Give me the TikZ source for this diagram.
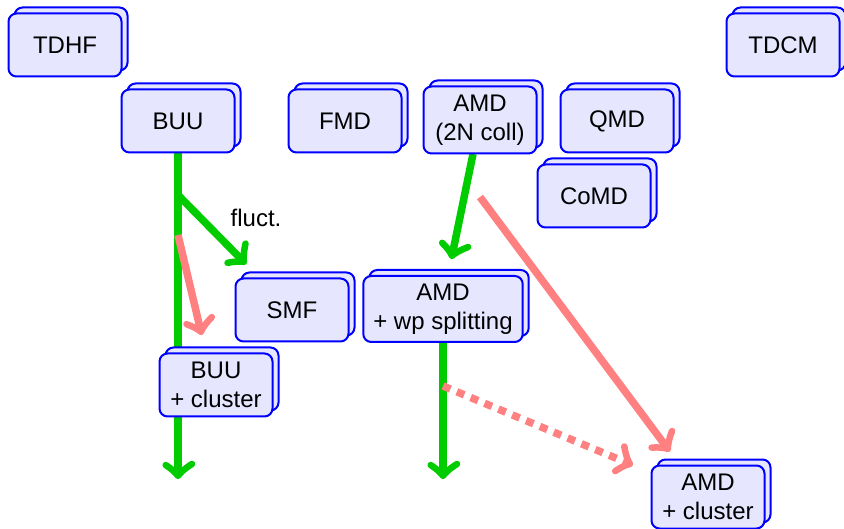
\documentclass[tikz,border=0pt]{standalone}
\usepackage{fontspec}
\setmainfont{Liberation Sans}
\usetikzlibrary{shadows,decorations.markings}
\pgfdeclarelayer{bg}
\pgfsetlayers{bg,main}
\definecolor{boxfill}{RGB}{230,230,255}
\definecolor{boxline}{RGB}{0,0,255}
\definecolor{grn}{RGB}{0,204,0}
\definecolor{pnk}{RGB}{255,128,128}
\begin{document}
\begin{tikzpicture}[x=1pt,y=-1pt,
  model/.style={draw=boxline, fill=boxfill, line width=2pt, rounded corners=8pt,
    minimum width=113pt, minimum height=63pt, inner xsep=10pt, inner ysep=5pt,
    align=center, font=\fontsize{24}{29}\selectfont,
    general shadow={shadow xshift=6pt, shadow yshift=6pt, fill=boxfill, draw=boxline, line width=2pt}},
  barbtip/.style={postaction={decorate, decoration={markings, mark=at position 1 with {
    \draw[solid, line width=6.5pt, line cap=round, line join=round]
      (-12pt,14pt) .. controls (-7pt,6pt) and (-2pt,1pt) .. (0pt,0pt)
      .. controls (-2pt,-1pt) and (-7pt,-6pt) .. (-12pt,-14pt);}}}},
  garrow/.style={draw=grn, line width=7.5pt, shorten >=2pt, barbtip},
  parrow/.style={draw=pnk, line width=7.5pt, shorten >=2pt, barbtip},
  lbl/.style={font=\fontsize{24}{29}\selectfont, inner sep=0pt}]
\useasboundingbox (0,0) rectangle (844,529);
\node[model] (tdhf) at (65,45) {TDHF};
\node[model] (tdcm) at (783,45) {TDCM};
\node[model] (buu) at (178,121) {BUU};
\node[model] (fmd) at (345,121) {FMD};
\node[model, minimum height=67pt] (amd) at (480,120) {AMD\\(2N coll)};
\node[model] (qmd) at (617,121) {QMD};
\node[model] (comd) at (594,196) {CoMD};
\node[model] (smf) at (292,310) {SMF};
\node[model, minimum height=66pt] (amdwp) at (443,309) {AMD\\+ wp splitting};
\node[model] (buuc) at (216,385) {BUU\\+ cluster};
\node[model] (amdc) at (708,497) {AMD\\+ cluster};
\node[lbl] (fl) at (256,218) {fluct.};
\coordinate (buuend) at (178,476);
\coordinate (fbr) at (178,195);
\coordinate (ftip) at (244,262);
\coordinate (pbr) at (178,235);
\coordinate (ptip) at (201,332);
\coordinate (amdst) at (473,154);
\coordinate (amdtip) at (452,256);
\coordinate (amdp) at (480,197);
\coordinate (amdptip) at (668,449);
\coordinate (wpend) at (443,476);
\coordinate (wpp) at (443,386);
\coordinate (wpptip) at (630,464);
\begin{pgfonlayer}{bg}
\draw[garrow] (buu.south) -- (buuend);
\draw[garrow] (fbr) -- (ftip);
\draw[garrow] (amdst) -- (amdtip);
\draw[garrow] (amdwp.south) -- (wpend);
\end{pgfonlayer}
\draw[parrow] (pbr) -- (ptip);
\begin{pgfonlayer}{bg}
\draw[parrow] (amdp) -- (amdptip);
\draw[parrow, dash pattern=on 8pt off 7pt] (wpp) -- (wpptip);
\end{pgfonlayer}
\end{tikzpicture}
\end{document}
